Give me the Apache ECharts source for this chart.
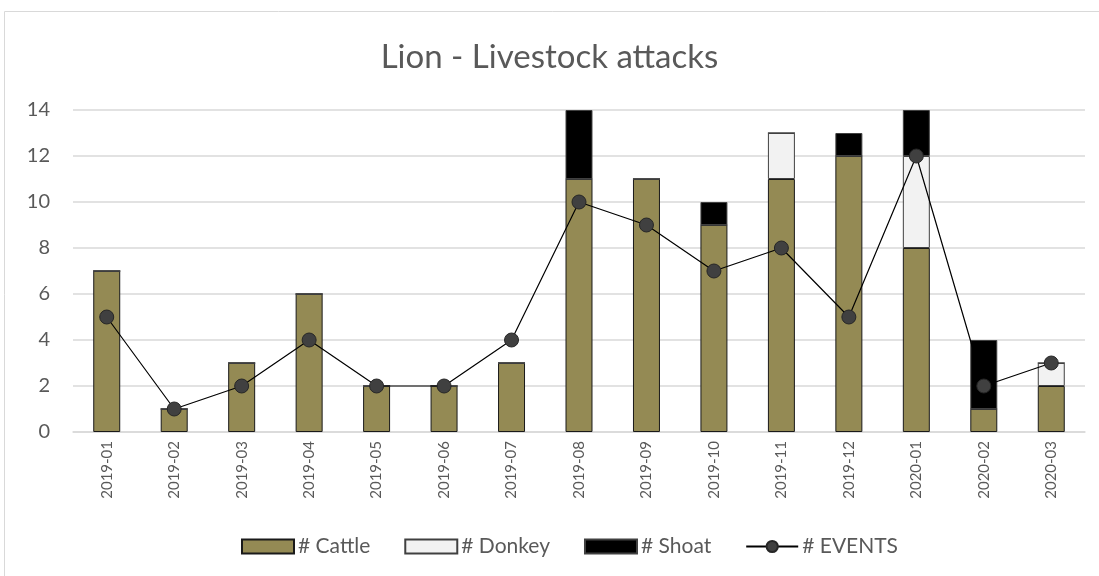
<!DOCTYPE html>
<html><head><meta charset="utf-8">
<script src="https://cdn.jsdelivr.net/npm/echarts@6/dist/echarts.min.js"></script>
<style>html,body{margin:0;padding:0;background:#fff}#c{width:1099px;height:576px}</style>
</head><body><div id="c"></div>
<script>
const categories = ['2019-01','2019-02','2019-03','2019-04','2019-05','2019-06','2019-07','2019-08','2019-09','2019-10','2019-11','2019-12','2020-01','2020-02','2020-03'];
const cattle = [7,1,3,6,2,2,3,11,11,9,11,12,8,1,2];
const donkey = [0,0,0,0,0,0,0,0,0,0,2,0,4,0,1];
const shoat  = [0,0,0,0,0,0,0,3,0,1,0,1,2,3,0];
const events = [5,1,2,4,2,2,4,10,9,7,8,5,12,2,3];
const yTicks = [0,2,4,6,8,10,12,14];

const font = 'Lato, "Open Sans", sans-serif';
const chart = echarts.init(document.getElementById('c'));
chart.setOption({
  animation: false,
  textStyle: {fontFamily: font},
  graphic: [{type:'rect', shape:{x:4.5,y:11.5,width:1200,height:700}, style:{fill:'none',stroke:'#d9d9d9',lineWidth:1}, z:-10}],
  title: {text:'Lion - Livestock attacks', left:'center', top:36, textStyle:{fontFamily:font, fontSize:33, fontWeight:'normal', color:'#595959'}},
  grid: {left:73, right:14, top:110, bottom:144, containLabel:false},
  legend: {bottom:14, left:236, itemWidth:52, itemHeight:14, itemGap:34,
    textStyle:{fontFamily:font, fontSize:21, color:'#595959', padding:[0,0,0,-1]},
    data:[{name:'# Cattle', icon:'rect'},{name:'# Donkey', icon:'rect'},{name:'# Shoat', icon:'rect'},{name:'# EVENTS'}]},
  xAxis: {type:'category', data:categories,
    axisLine:{lineStyle:{color:'#d9d9d9', width:1.5}}, axisTick:{show:false},
    axisLabel:{rotate:90, fontSize:15, color:'#595959', margin:9, interval:0}},
  yAxis: {type:'value', min:0, max:14, interval:2,
    axisLabel:{fontSize:20, color:'#595959', margin:23, formatter: v => yTicks.includes(v) ? String(v) : ''},
    splitLine:{lineStyle:{color:'#d9d9d9', width:1.5}}, axisLine:{show:false}, axisTick:{show:false}},
  series: [
    {name:'# Cattle', type:'bar', stack:'a', data:cattle, barWidth:'40%',
      itemStyle:{color:'#948A54', borderColor:'#1a1a1a', borderWidth:1}},
    {name:'# Donkey', type:'bar', stack:'a', data:donkey, barWidth:'40%',
      itemStyle:{color:'#F2F2F2', borderColor:'#404040', borderWidth:1}},
    {name:'# Shoat', type:'bar', stack:'a', data:shoat, barWidth:'40%',
      itemStyle:{color:'#000000', borderColor:'#404040', borderWidth:1}},
    {name:'# EVENTS', type:'line', data:events, symbol:'circle', symbolSize:14,
      lineStyle:{color:'#000', width:1.2},
      itemStyle:{color:'#404040', borderColor:'#262626', borderWidth:1}, z:5}
  ]
});
</script></body></html>
